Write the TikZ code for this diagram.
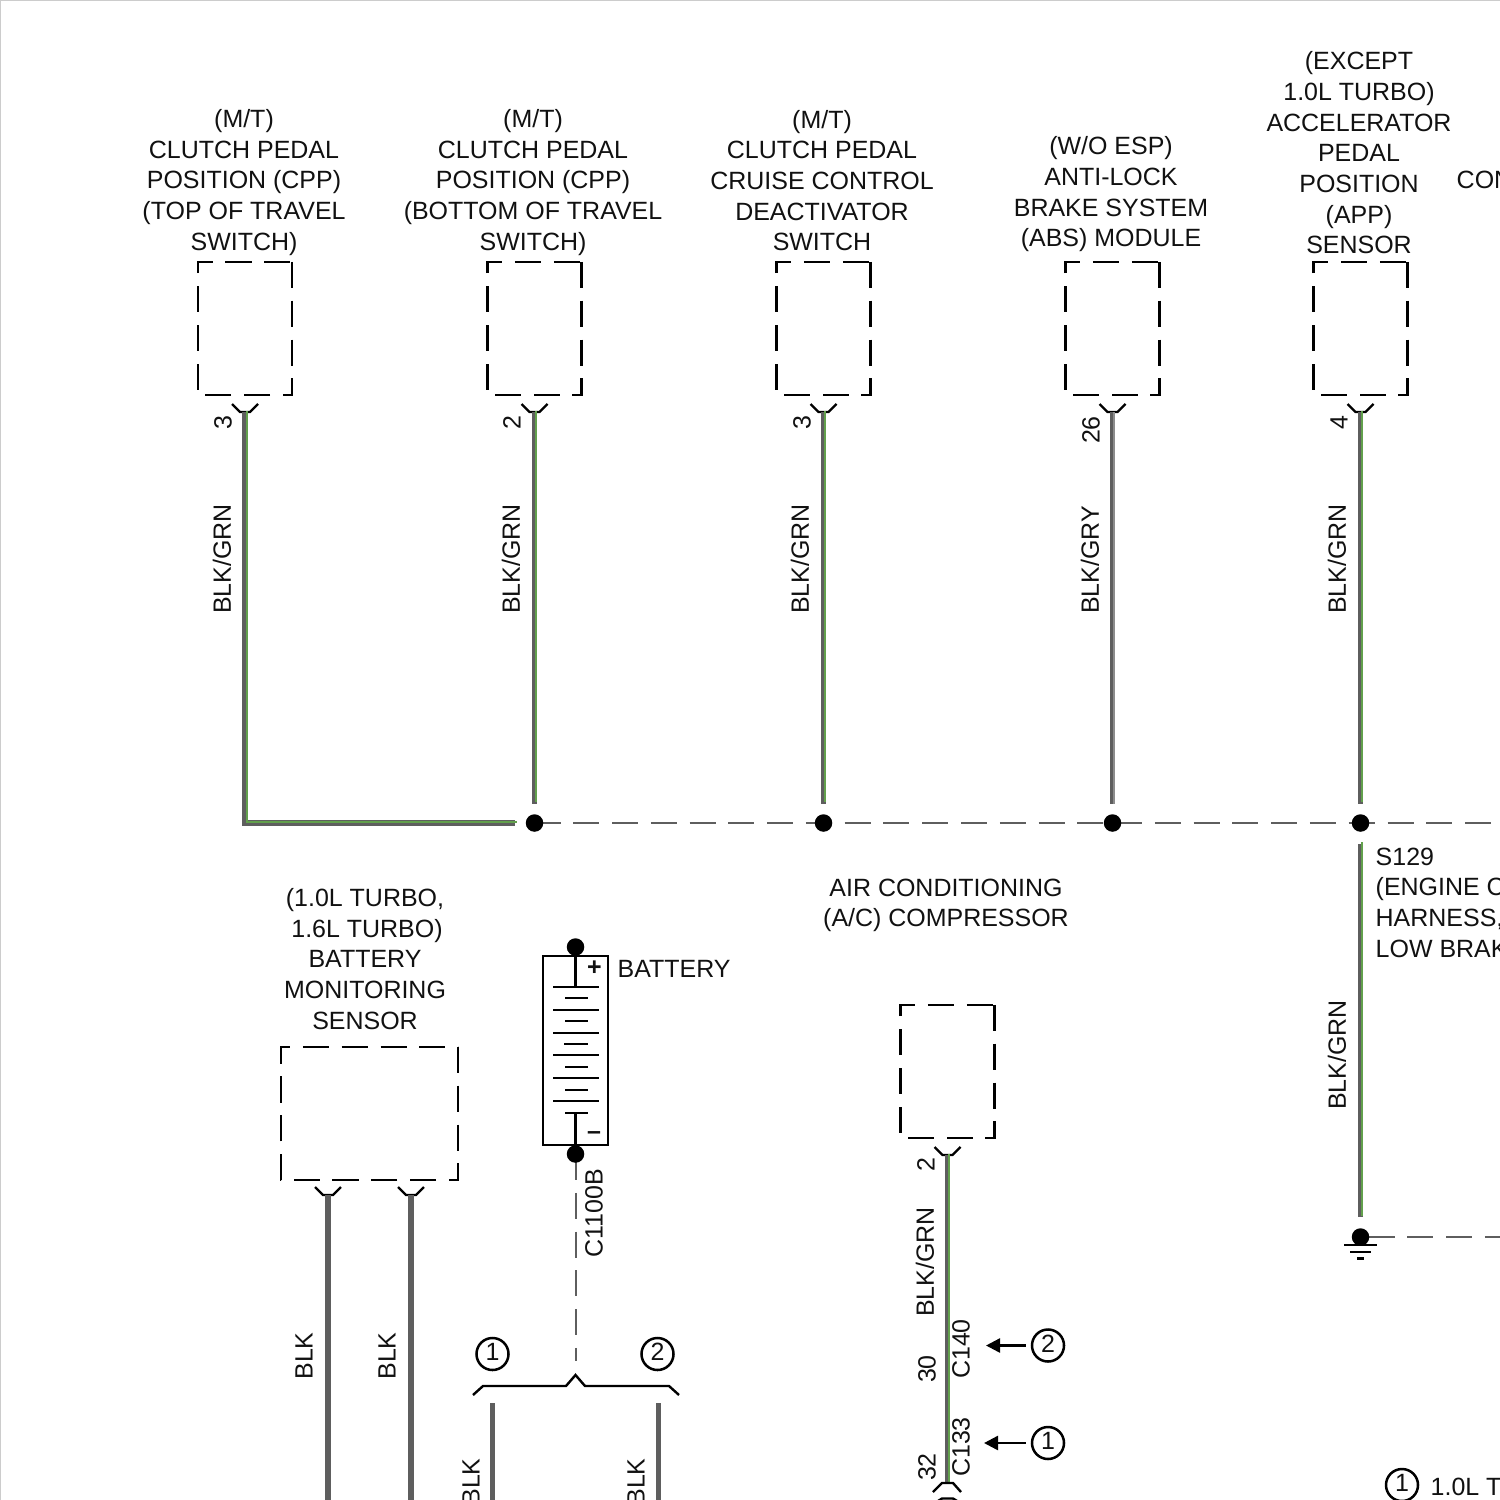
\documentclass[tikz,border=0pt]{standalone}
\usepackage{fontspec}
\setmainfont{Liberation Sans}
\usetikzlibrary{arrows.meta,backgrounds}
\definecolor{wireblk}{HTML}{5E5E5E}
\definecolor{wiregrn}{HTML}{62A04C}
\definecolor{wiregry}{HTML}{8C8C8C}
\definecolor{inkblk}{HTML}{111111}
\newcommand{\devbox}[1]{\draw[boxline] (#1.north east) -- (#1.south east) -- (#1.south west) -- (#1.north west) -- cycle;}
\newcommand{\calnum}[1]{\raisebox{0.035cm}{#1}}

\begin{document}
\begin{tikzpicture}[
    x=0.01cm, y=-0.01cm,
    every node/.style={align=center, inner sep=0pt, text=inkblk, font=\fontsize{7.1}{8.72}\selectfont},
    device/.style={rectangle, outer sep=0pt, minimum height=1.33cm},
    boxline/.style={draw=black, line width=0.025cm, dash pattern=on 0.26cm off 0.1275cm},
    solidbox/.style={rectangle, draw=black, line width=0.025cm, minimum width=0.65cm, minimum height=1.89cm},
    dot/.style={circle, fill=black, minimum size=0.175cm},
    callout/.style={circle, draw=black, line width=0.025cm, minimum size=0.32cm},
    wirelabel/.style={rotate=90},
    blk/.style={draw=wireblk, line width=0.055cm},
    blkgrn/.style={blk, postaction={draw=wiregrn, line width=0.02cm, transform canvas={xshift=0.015cm, yshift=0.015cm}}},
    blkgry/.style={blk, postaction={draw=wiregry, line width=0.02cm, transform canvas={xshift=0.015cm}}},
    link/.style={draw=wireblk, line width=0.02cm, dash pattern=on 0.26cm off 0.1275cm},
    gap/.style={shorten >=0.1cm},
    gaps/.style={shorten <=0.115cm, shorten >=0.105cm},
    thinline/.style={draw=black, line width=0.024cm},
    heavyline/.style={draw=black, line width=0.029cm},
    pointer/.style={-{Triangle[length=0.14cm, width=0.14cm]}, draw=black, line width=0.025cm, shorten <=0.05cm},
    pinmark/.pic={\draw[thinline] (-13,-8) -- (-5,0) -- (5,0) -- (13,-8);}
]
\useasboundingbox (0,0) rectangle (1500,1500);
\draw[gray!40, line width=0.02cm] (0,1500) -- (0,0) -- (1500,0);

% Clutch switches and modules along the top
\node (txtcpptop) at (244,182.5) {(M/T)\\CLUTCH PEDAL\\POSITION (CPP)\\(TOP OF TRAVEL\\SWITCH)};
\node[device, minimum width=0.94cm] (cpptop) at (245,328.5) {};
\node (txtcppbot) at (533,182.5) {(M/T)\\CLUTCH PEDAL\\POSITION (CPP)\\(BOTTOM OF TRAVEL\\SWITCH)};
\node[device, minimum width=0.94cm] (cppbot) at (534.5,328.5) {};
\node (txtcruise) at (822,180.5) {(M/T)\\CLUTCH PEDAL\\CRUISE CONTROL\\DEACTIVATOR\\SWITCH};
\node[device, minimum width=0.94cm] (cruise) at (823.5,328.5) {};
\node (txtabs) at (1111,194.5) {(W/O ESP)\\ANTI-LOCK\\BRAKE SYSTEM\\(ABS) MODULE};
\node[device, minimum width=0.94cm] (abs) at (1112.5,328.5) {};
\node (txtapp) at (1359,153) {(EXCEPT\\1.0L TURBO)\\ACCELERATOR\\PEDAL\\POSITION\\(APP)\\SENSOR};
\node[device, minimum width=0.94cm] (app) at (1360.5,328.5) {};
\node[anchor=west] (txtcon) at (1456,180) {CON};
\devbox{cpptop}
\devbox{cppbot}
\devbox{cruise}
\devbox{abs}
\devbox{app}

% Pins
\coordinate (pincpptop) at (245,412);
\coordinate (pincppbot) at (534.5,412);
\coordinate (pincruise) at (823.5,412);
\coordinate (pinabs) at (1112.5,412);
\coordinate (pinapp) at (1360.5,412);
\pic at (pincpptop) {pinmark};
\pic at (pincppbot) {pinmark};
\pic at (pincruise) {pinmark};
\pic at (pinabs) {pinmark};
\pic at (pinapp) {pinmark};
\node[wirelabel] (n3a) at (223,423) {3};
\node[wirelabel] (n2a) at (512,423) {2};
\node[wirelabel] (n3b) at (802,423) {3};
\node[wirelabel] (n26) at (1091,430) {26};
\node[wirelabel] (n4) at (1339,423) {4};

% Splice line
\node[dot] (jcppbot) at (534.5,823) {};
\node[dot] (jcruise) at (823.5,823) {};
\node[dot] (jabs) at (1112.5,823) {};
\node[dot] (japp) at (1360.5,823) {};
\coordinate (linkend) at (1500,823);

\draw[blkgrn, gap] (pincpptop) |- (jcppbot);
\draw[blkgrn, gap] (pincppbot) -- (jcppbot);
\draw[blkgrn, gap] (pincruise) -- (jcruise);
\draw[blkgry, gap] (pinabs) -- (jabs);
\draw[blkgrn, gap] (pinapp) -- (japp);
\begin{scope}[on background layer]
\draw[link] (jcppbot.center) -- (linkend);
\end{scope}
\node[wirelabel] (wcpptop) at (222,559) {BLK/GRN};
\node[wirelabel] (wcppbot) at (511,559) {BLK/GRN};
\node[wirelabel] (wcruise) at (800,559) {BLK/GRN};
\node[wirelabel] (wabs) at (1090,560) {BLK/GRY};
\node[wirelabel] (wapp) at (1337,559) {BLK/GRN};

% Ground S129
\node[anchor=north west, align=left] (txtground) at (1375,847) {S129\\(ENGINE C\\HARNESS,\\LOW BRAK};
\node[dot] (ground) at (1360.5,1237) {};
\coordinate (groundend) at (1500,1237);
\draw[blkgrn, gaps] (japp) -- (ground);
\begin{scope}[on background layer]
\draw[link, dash phase=0.3075cm] (ground.center) -- (groundend);
\end{scope}
\node[wirelabel] (wground) at (1337,1055) {BLK/GRN};
\draw[thinline] (1344,1245) -- (1377,1245);
\draw[thinline] (1350,1252) -- (1371,1252);
\draw[thinline] (1357,1258.5) -- (1364,1258.5);

% Battery monitoring sensor
\node (txtbms) at (365,959) {(1.0L TURBO,\\\hspace*{0.04cm}1.6L TURBO)\\BATTERY\\MONITORING\\SENSOR};
\node[device, minimum width=1.77cm] (bms) at (369.5,1113.5) {};
\devbox{bms}
\coordinate (pinbmsa) at (328,1195);
\coordinate (pinbmsb) at (411,1195);
\coordinate (bmsenda) at (328,1500);
\coordinate (bmsendb) at (411,1500);
\pic at (pinbmsa) {pinmark};
\pic at (pinbmsb) {pinmark};
\draw[blk] (pinbmsa) -- (bmsenda);
\draw[blk] (pinbmsb) -- (bmsendb);
\node[wirelabel] (wbmsa) at (304,1356) {BLK};
\node[wirelabel] (wbmsb) at (387,1356) {BLK};

% Battery
\node[solidbox] (batt) at (575.5,1050.5) {};
\node[dot] (batttop) at (575.5,947) {};
\node[dot] (battbot) at (575.5,1154) {};
\coordinate (platetop) at (575.5,987);
\coordinate (platebot) at (575.5,1113);
\draw[thinline] (batttop) -- (platetop);
\draw[thinline] (platebot) -- (battbot);
\draw[heavyline] (553,987) -- (599,987);
\draw[thinline] (565,998) -- (588,998);
\draw[thinline] (553,1010) -- (599,1010);
\draw[thinline] (565,1021) -- (588,1021);
\draw[heavyline] (553,1033) -- (599,1033);
\draw[heavyline] (564,1044) -- (588,1044);
\draw[thinline] (553,1055) -- (599,1055);
\draw[thinline] (565,1067) -- (588,1067);
\draw[thinline] (553,1078) -- (599,1078);
\draw[heavyline] (565,1090) -- (588,1090);
\draw[thinline] (553,1101) -- (599,1101);
\draw[heavyline] (565,1113) -- (588,1113);
\node (battplus) at (594.5,968) {\textbf{+}};
\node (battminus) at (594,1136) {\textbf{--}};
\node[anchor=west] (txtbatt) at (617,969) {BATTERY};

% C1100B branch
\coordinate (branchend) at (575.5,1361);
\coordinate (branchtip) at (575.5,1375);
\node[wirelabel] (c1100b) at (594,1213) {C1100B};
\begin{scope}[on background layer]
\draw[link] (battbot.center) -- (branchend);
\end{scope}
\draw[thinline] (473,1395) -- (483,1386) -- (566,1386) -- (branchtip) -- (585,1386) -- (669,1386) -- (679,1395);
\node[callout] (brone) at (492.5,1354) {\calnum{1}};
\node[callout] (brtwo) at (657.5,1354) {\calnum{2}};
\coordinate (wireone) at (492.5,1403);
\coordinate (wiretwo) at (658.5,1403);
\coordinate (endone) at (492.5,1500);
\coordinate (endtwo) at (658.5,1500);
\draw[blk] (wireone) -- (endone);
\draw[blk] (wiretwo) -- (endtwo);
\node[wirelabel] (wone) at (471,1482) {BLK};
\node[wirelabel] (wtwo) at (636,1482) {BLK};

% A/C compressor
\node (txtac) at (946,905.5) {AIR CONDITIONING\\(A/C) COMPRESSOR};
\node[device, minimum width=0.94cm] (ac) at (947.5,1071.5) {};
\devbox{ac}
\coordinate (pinac) at (947.5,1155);
\coordinate (pinacb) at (947.5,1483);
\pic at (pinac) {pinmark};
\draw[blkgrn] (pinac) -- (pinacb);
\draw[thinline] (933,1492) -- (942,1483) -- (953,1483) -- (961,1492);
\draw[thinline] (938,1501) -- (942,1498.5) -- (953,1498.5) -- (957,1501);
\node[wirelabel] (n2c) at (926,1165) {2};
\node[wirelabel] (wac) at (925,1262) {BLK/GRN};
\node[wirelabel] (n30) at (927,1369) {30};
\node[wirelabel] (c140) at (961,1349) {C140};
\node[wirelabel] (n32) at (927,1467) {32};
\node[wirelabel] (c133) at (961,1447) {C133};
\node[callout] (acone) at (1048,1443) {\calnum{1}};
\node[callout] (actwo) at (1048,1345.5) {\calnum{2}};
\coordinate (tipone) at (984,1443);
\coordinate (tiptwo) at (986,1345.5);
\draw[pointer] (actwo) -- (tiptwo);
\draw[pointer] (acone) -- (tipone);

% Legend
\node[callout] (legone) at (1402,1485) {\calnum{1}};
\node[anchor=west] (txtleg) at (1430,1487) {1.0L T};

\end{tikzpicture}
\end{document}
